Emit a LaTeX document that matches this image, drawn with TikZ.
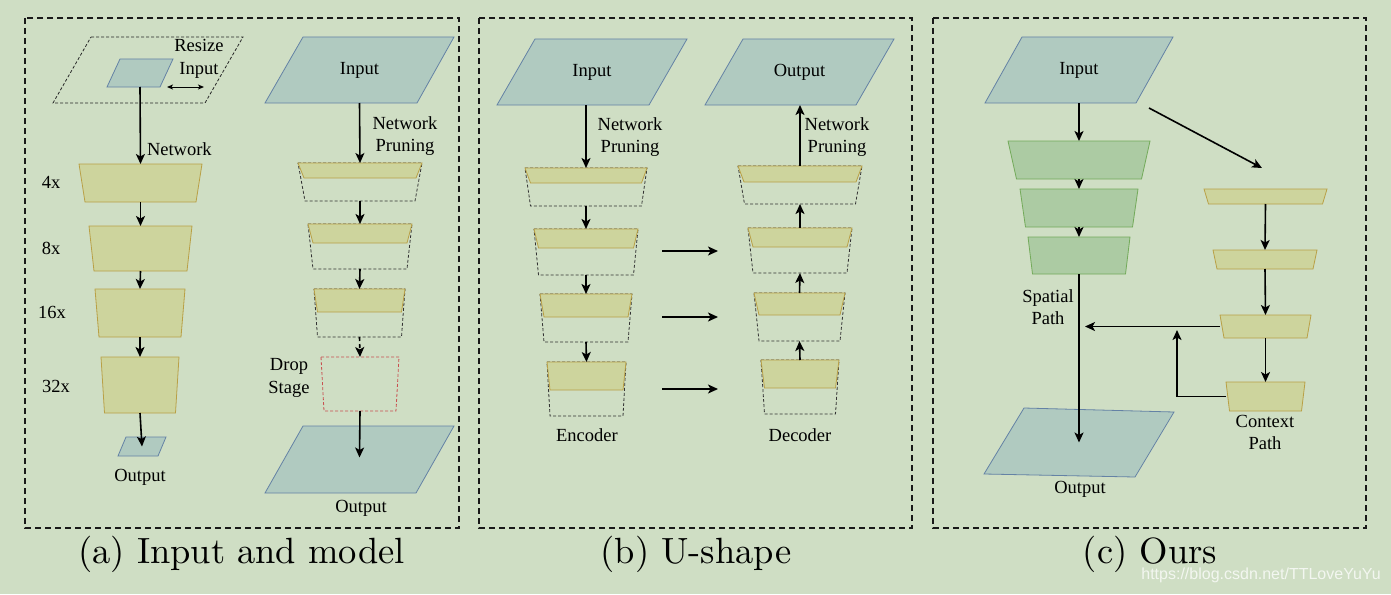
\documentclass[tikz,border=0pt]{standalone}
\usepackage{fontspec}
\usetikzlibrary{arrows.meta}
\newfontfamily\lblfont{Liberation Serif}
\newfontfamily\wmfont{Liberation Sans}
\newfontfamily\capfont{lmroman10-regular.otf}
\definecolor{bgc}{RGB}{207,222,196}
\definecolor{paraF}{RGB}{176,202,192}
\definecolor{paraD}{RGB}{100,130,165}
\definecolor{ylwF}{RGB}{205,212,157}
\definecolor{ylwD}{RGB}{185,160,70}
\definecolor{grnF}{RGB}{172,203,163}
\definecolor{grnD}{RGB}{115,170,90}
\definecolor{redD}{RGB}{200,80,80}
\tikzset{
  frame/.style={draw=black!90, line width=1.8pt, dash pattern=on 6pt off 4pt},
  arr/.style={-{Stealth[length=10pt,width=9pt,inset=2.5pt]}, line width=1.6pt},
  darr/.style={{Stealth[length=6pt,width=5pt,inset=1.5pt]}-{Stealth[length=6pt,width=5pt,inset=1.5pt]}, line width=1pt},
  para/.style={fill=paraF, draw=paraD, line width=0.8pt},
  rsz/.style={draw=black!85, line width=0.8pt, dash pattern=on 3pt off 2pt},
  ylw/.style={fill=ylwF, draw=ylwD, line width=0.8pt},
  grn/.style={fill=grnF, draw=grnD, line width=0.8pt},
  dsh/.style={draw=black!80, line width=0.8pt, dash pattern=on 3pt off 2pt},
  redbox/.style={draw=redD, line width=0.8pt, dash pattern=on 3pt off 2pt},
  box/.style={inner sep=0pt, outer sep=0pt},
  lab/.style={inner sep=0pt, outer sep=0pt, align=center, font={\lblfont\fontsize{18.5}{22.5}\selectfont}},
  captxt/.style={inner sep=0pt, font={\capfont\fontsize{36.5}{40}\selectfont}},
}
\newcommand\pgram[9]{%
  \draw[#2] (#5,#3) -- (#6,#3) -- (#8,#4) -- (#7,#4) -- cycle;
  \pgfmathsetmacro\shpA{min(#5,#7)}\pgfmathsetmacro\shpB{max(#6,#8)}%
  \pgfmathsetmacro\shpW{\shpB-\shpA}\pgfmathsetmacro\shpH{#4-#3}%
  \pgfmathsetmacro\shpX{(\shpA+\shpB)/2}\pgfmathsetmacro\shpY{(#3+#4)/2}%
  \node[lab, minimum width=\shpW pt, minimum height=\shpH pt] (#1) at (\shpX,\shpY) {#9};
}
\newcommand\trz[8]{%
  \draw[#2] ({#5-#6},#3) -- ({#5+#6},#3) -- ({#5+#7},#4) -- ({#5-#7},#4) -- cycle;
  \pgfmathsetmacro\shpW{2*max(#6,#7)}\pgfmathsetmacro\shpH{#4-#3}\pgfmathsetmacro\shpY{(#3+#4)/2}%
  \node[box, minimum width=\shpW pt, minimum height=\shpH pt] (#1) at (#5,\shpY) {#8};
}
\newcommand\pblk[8]{%
  \draw[dsh] ({#5-#6},#2) -- ({#5+#6},#2) -- ({#5+#8},#4) -- ({#5-#8},#4) -- cycle;
  \draw[ylw] ({#5-#6},#2) -- ({#5+#6},#2) -- ({#5+#7},#3) -- ({#5-#7},#3) -- cycle;
  \pgfmathsetmacro\shpW{2*#6}\pgfmathsetmacro\shpH{#4-#2}\pgfmathsetmacro\shpY{(#2+#4)/2}%
  \node[box, minimum width=\shpW pt, minimum height=\shpH pt] (#1) at (#5,\shpY) {};
}
\begin{document}
\begin{tikzpicture}[x=1pt,y=-1pt]
\fill[bgc] (0,0) rectangle (1391,594);
\useasboundingbox (0,0) rectangle (1391,594);
% frames
\draw[frame] (25,18) rectangle (459,528);
\draw[frame] (479,18) rectangle (912,528);
\draw[frame] (933,18) rectangle (1366,528);

% ---------- (a) left ----------
\pgram{aRs}{rsz}{37}{103}{91}{243}{53}{205}{}
\pgram{aIn}{para}{59}{87}{120}{173}{107}{160}{}
\node[lab] (aRsL) at (199,58.5) {Resize\\[0.5pt]Input};
\coordinate (rsA) at (167,87);
\coordinate (rsB) at (204,87);
\draw[darr] (rsA) -- (rsB);
\trz{t4}{ylw}{164}{202}{140.5}{61.5}{55.5}{}
\trz{t8}{ylw}{226}{271}{140.5}{51.5}{46.5}{}
\trz{t16}{ylw}{289}{337}{140}{45}{41}{}
\trz{t32}{ylw}{357}{413}{140}{39}{35.5}{}
\pgram{aOut}{para}{437}{456}{126}{166}{118}{158}{}
\node[lab, anchor=west] (aNet) at (147,149) {Network};
\node[lab] (l4) at (51,182) {4x};
\node[lab] (l8) at (51,248) {8x};
\node[lab] (l16) at (52,312) {16x};
\node[lab] (l32) at (56,386) {32x};
\node[lab] (aOutL) at (140,477) {Output};
\draw[arr] (aIn.south) -- (t4.north);
\draw[arr] (t4.south) -- (t8.north);
\draw[arr] (t8.south) -- (t16.north);
\draw[arr] (t16.south) -- (t32.north);
\draw[arr] (t32.south) -- (aOut.center);

% ---------- (a) right ----------
\pgram{aIn2}{para}{37}{103}{303}{454}{265}{417}{Input}
\pblk{p1}{163}{178}{201}{360}{62}{56}{55}
\pblk{p2}{224}{243}{269}{360}{52}{47}{47}
\pblk{p3}{289}{312}{337}{359.5}{45.5}{42}{42}
\trz{drop}{redbox}{357}{411}{360}{39}{36}{}
\pgram{aOut2}{para}{426}{493}{303}{454}{265}{416}{}
\node[lab] (aNP) at (405,136) {Network\\Pruning};
\node[lab] (aDrop) at (289,378) {Drop\\[1pt]Stage};
\node[lab] (aOut2L) at (361,508) {Output};
\draw[arr] (aIn2.south) -- (p1.north);
\draw[arr] (p1.south) -- (p2.north);
\draw[arr] (p2.south) -- (p3.north);
\draw[arr, dash pattern=on 4pt off 3pt] (p3.south) -- (drop.north);
\draw[arr] (drop.south) -- ([yshift=2pt]aOut2.center);

% ---------- (b) ----------
\pgram{bIn}{para}{39}{105}{535}{687}{497}{649}{Input}
\pblk{e1}{168}{183}{206}{586}{61}{55.5}{55.5}
\pblk{e2}{229}{248}{275}{586}{52}{47.5}{47.5}
\pblk{e3}{294}{317}{342}{586}{46}{42}{42}
\pblk{e4}{362}{390}{416}{586.5}{39.5}{36.5}{36.5}
\pgram{bOut}{para}{39}{105}{743}{894}{705}{856}{Output}
\pblk{d1}{166}{182}{204}{800}{62}{56}{55.5}
\pblk{d2}{228}{247}{273}{800}{52}{47}{47}
\pblk{d3}{293}{315}{341}{799.5}{45.5}{40.5}{40.5}
\pblk{d4}{360}{388}{414}{800}{39}{35.5}{35.5}
\node[lab] (bNP1) at (630,137) {Network\\Pruning};
\node[lab] (bNP2) at (837,137) {Network\\Pruning};
\node[lab] (bEnc) at (587,435) {Encoder};
\node[lab] (bDec) at (800,435) {Decoder};
\draw[arr] (e1.north |- bIn.south) -- (e1.north);
\draw[arr] (e1.south) -- (e2.north);
\draw[arr] (e2.south) -- (e3.north);
\draw[arr] (e3.south) -- (e4.north);
\draw[arr] (d1.north) -- (d1.north |- bOut.south);
\draw[arr] (d2.north) -- (d1.south);
\draw[arr] (d3.north) -- (d2.south);
\draw[arr] (d4.north) -- (d3.south);
\coordinate (h1a) at (662,251); \coordinate (h1b) at (718,251);
\coordinate (h2a) at (662,317); \coordinate (h2b) at (718,317);
\coordinate (h3a) at (662,389); \coordinate (h3b) at (718,389);
\draw[arr] (h1a) -- (h1b);
\draw[arr] (h2a) -- (h2b);
\draw[arr] (h3a) -- (h3b);

% ---------- (c) ----------
\pgram{cIn}{para}{37}{103}{1022}{1173}{985}{1136}{Input}
\trz{g1}{grn}{141}{179}{1079}{71}{62.5}{}
\trz{g2}{grn}{189}{227}{1079}{59}{53.5}{}
\trz{g3}{grn}{237}{274}{1079}{51}{46.5}{}
\trz{c1}{ylw}{189}{204}{1265.5}{61.5}{57}{}
\trz{c2}{ylw}{250}{269}{1265}{52}{48}{}
\trz{c3}{ylw}{315}{338}{1265.5}{45.5}{41.5}{}
\trz{c4}{ylw}{382}{411}{1265.5}{39.5}{36}{}
\draw[para] (1024,408) -- (1174,412) -- (1135,477) -- (984,474) -- cycle;
\node[box, minimum width=190pt, minimum height=69pt] (cOut) at (1079,442.5) {};
\node[lab] (cSp) at (1048,307) {Spatial\\Path};
\node[lab] (cCt) at (1265,432.5) {Context\\Path};
\node[lab] (cOutL) at (1080,489) {Output};
\draw[arr] (cIn.south) -- (g1.north);
\draw[arr] (g1.south) -- (g2.north);
\draw[arr] (g2.south) -- (g3.north);
\draw[arr] (g3.south) -- (cOut.center);
\coordinate (dgA) at (1149,108);
\coordinate (dgB) at (1262,168);
\draw[arr] (dgA) -- (dgB);
\draw[arr] (c1.south) -- (c2.north);
\draw[arr] (c2.south) -- (c3.north);
\draw[arr] (c3.south) -- (c4.north);
\coordinate (jn) at (c3.west -| g3.south);
\draw[arr] (c3.west) -- ([xshift=6pt]jn);
\coordinate (fb) at (1177,330);
\draw[arr] (c4.west) -| (fb);

% ---------- captions ----------
\node[captxt] (capA) at (241.5,554) {(a) Input and model};
\node[captxt] (capB) at (696,554) {(b) U-shape};
\node[captxt] (capC) at (1150,554) {(c) Ours};
\node[inner sep=0pt, text=white, opacity=0.75, font={\wmfont\fontsize{16}{18}\selectfont}] (wm) at (1261,575) {https://blog.csdn.net/TTLoveYuYu};
\end{tikzpicture}
\end{document}
